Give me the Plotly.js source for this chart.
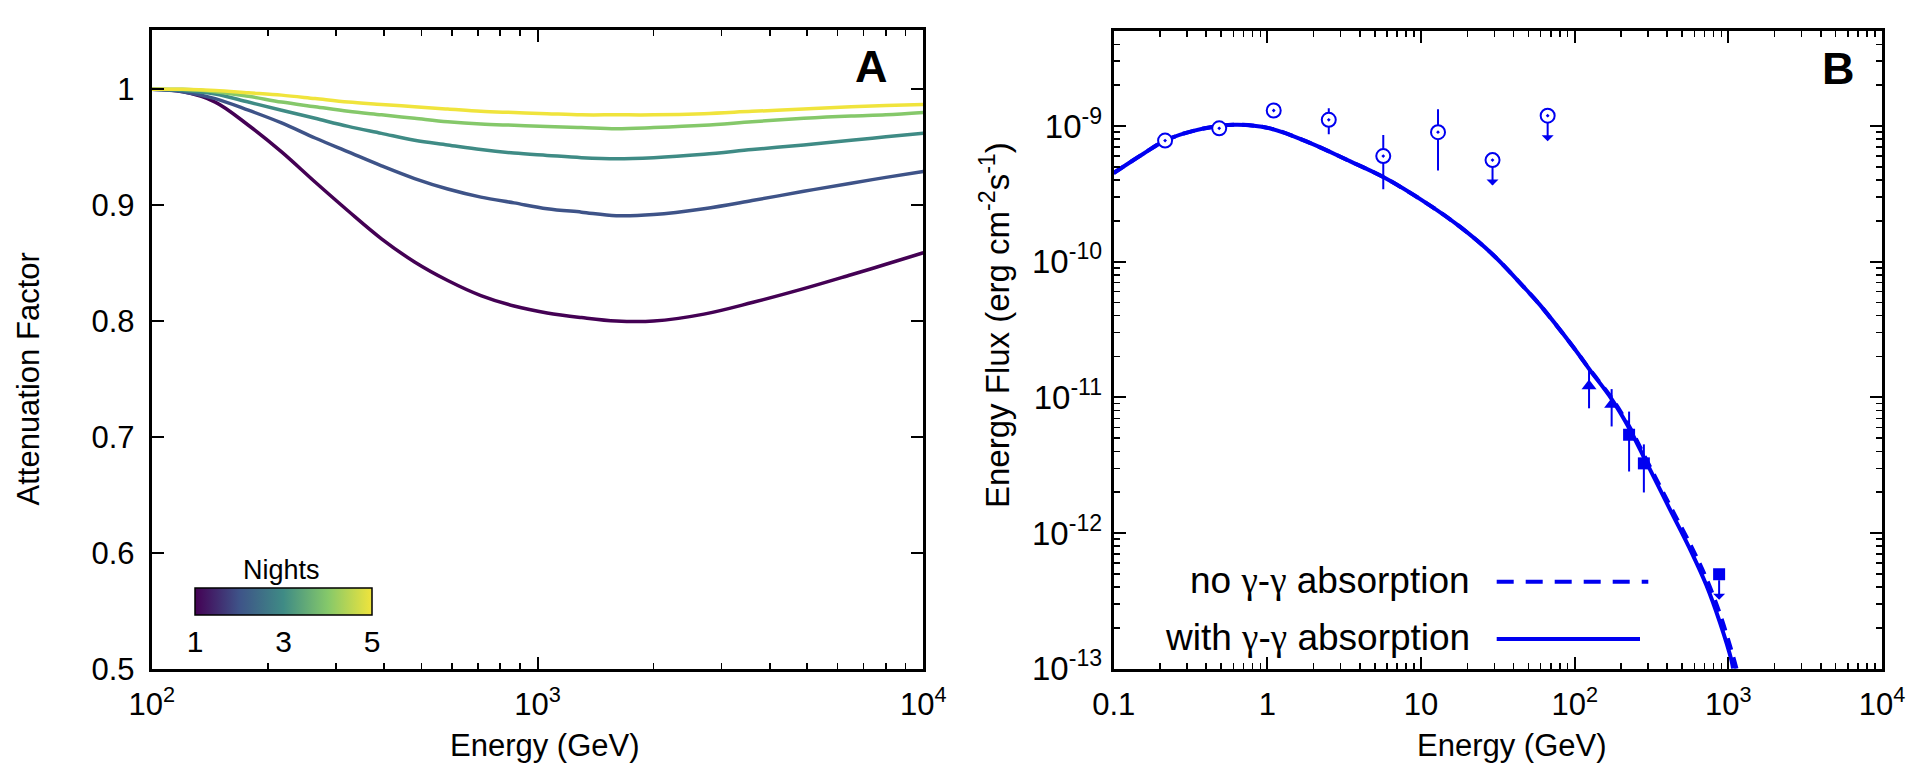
<!DOCTYPE html>
<html>
<head>
<meta charset="utf-8">
<script src="https://cdn.plot.ly/plotly-3.0.1.min.js"></script>
<style>html,body{margin:0;padding:0;background:#fff;}#chart{width:1916px;height:770px;}</style>
</head>
<body>
<div id="chart"></div>
<script>
// ---------- Panel A: attenuation factor ----------
const attnEnergy = [100,120,146,178,217,265,323,394,480,585,713,869,1059,1300,1600,2000,2700,3600,4900,6500,8000,10000];
const night1 = [1.000,0.998,0.989,0.969,0.946,0.920,0.895,0.871,0.851,0.835,0.822,0.813,0.807,0.803,0.800,0.800,0.806,0.816,0.828,0.840,0.849,0.859];
const night2 = [1.000,0.998,0.992,0.982,0.971,0.958,0.946,0.934,0.923,0.914,0.907,0.902,0.897,0.894,0.891,0.892,0.897,0.904,0.912,0.919,0.924,0.929];
const night3 = [1.000,0.999,0.996,0.989,0.982,0.975,0.968,0.962,0.956,0.952,0.948,0.945,0.943,0.941,0.940,0.941,0.944,0.948,0.952,0.956,0.959,0.962];
const night4 = [1.000,1.000,0.998,0.994,0.989,0.985,0.981,0.978,0.975,0.972,0.970,0.969,0.968,0.967,0.966,0.967,0.969,0.972,0.975,0.977,0.978,0.980];
const night5 = [1.000,1.000,0.999,0.997,0.995,0.992,0.989,0.987,0.985,0.983,0.981,0.980,0.979,0.978,0.978,0.978,0.979,0.981,0.983,0.985,0.986,0.987];
const nights = [1,2,3,4,5];
const nightCurves = [night1,night2,night3,night4,night5];
const nightColors = ['#440154','#3e5388','#3f8b85','#85c86a','#f0e43c'];
const attnYTicks = [0.5,0.6,0.7,0.8,0.9,1];
const attnYLabels = ['0.5','0.6','0.7','0.8','0.9','1'];
const attnXTicks = [100,1000,10000];
const attnXLabels = ['10<sup>2</sup>','10<sup>3</sup>','10<sup>4</sup>'];
const colorbarTicks = [1,3,5];
const colorbarLabels = ['1','3','5'];

// ---------- Panel B: SED ----------
const modelE = [0.1,0.156,0.216,0.33,0.6,1.04,1.89,3.44,5.68,10.9,17.9,29.5,48.6,59.4,97.8,125.6,174,228.6,293.6,416,576,721,880,1050,1074];
const modelAbsF = [4.5e-10,6.24e-10,7.8e-10,9.2e-10,1.02e-9,9.6e-10,7.5e-10,5.5e-10,4.2e-10,2.69e-10,1.81e-10,1.12e-10,6.18e-11,4.8e-11,2.35e-11,1.59e-11,9.7e-12,5.8e-12,3.3e-12,1.5e-12,7.2e-13,4.1e-13,2.2e-13,1.14e-13,1.0e-13];
const modelNoAbsE = [0.1,0.156,0.216,0.33,0.6,1.04,1.89,3.44,5.68,10.9,17.9,29.5,48.6,59.4,97.8,125.6,174,228.6,293.6,416,576,721,880,1050,1130];
const modelNoAbsF = [4.5e-10,6.24e-10,7.8e-10,9.2e-10,1.02e-9,9.6e-10,7.5e-10,5.5e-10,4.2e-10,2.69e-10,1.81e-10,1.12e-10,6.18e-11,4.8e-11,2.35e-11,1.6e-11,9.9e-12,6.0e-12,3.45e-12,1.6e-12,7.9e-13,4.6e-13,2.55e-13,1.35e-13,1.0e-13];

const fermiE  = [0.216,0.486,1.10,2.51,5.68,12.9,29.2,66.7];
const fermiF  = [7.8e-10,9.6e-10,1.30e-9,1.11e-9,6.0e-10,9.0e-10,5.6e-10,1.19e-9];
const fermiHi = [7.8e-10,9.6e-10,1.30e-9,1.35e-9,8.59e-10,1.33e-9,5.6e-10,1.19e-9];
const fermiLo = [7.8e-10,9.6e-10,1.30e-9,8.69e-10,3.42e-10,4.69e-10,5.6e-10,1.19e-9];
const fermiUL = [false,false,false,false,false,false,true,true];

const triE  = [124,174];
const triF  = [1.21e-11,8.85e-12];
const triHi = [1.59e-11,1.15e-11];
const triLo = [8.3e-12,6.1e-12];

const sqE  = [226,282];
const sqF  = [5.3e-12,3.26e-12];
const sqHi = [7.85e-12,4.5e-12];
const sqLo = [2.84e-12,1.99e-12];

const sqUlE = [871];
const sqUlF = [4.97e-13];

const sedXTicks = [0.1,1,10,100,1000,10000];
const sedXLabels = ['0.1','1','10','10<sup>2</sup>','10<sup>3</sup>','10<sup>4</sup>'];
const sedYTicks = [1e-13,1e-12,1e-11,1e-10,1e-9];
const sedYLabels = ['10<sup>-13</sup>','10<sup>-12</sup>','10<sup>-11</sup>','10<sup>-10</sup>','10<sup>-9</sup>'];

const G = '<span style="font-family:\'Liberation Serif\',serif">γ</span>';
const legendLabels = ['no ' + G + '-' + G + ' absorption', 'with ' + G + '-' + G + ' absorption'];

// ---------- build ----------
const W = 1916, H = 770;
const px = v => v / W;
const py = v => 1 - v / H;
const FONT = 'Liberation Sans, Arial, Helvetica, sans-serif';
const BLUE = '#0000f0';

function logMinor(lo, hi) {
  const v = [];
  for (let p = lo; p < hi; p++) for (let m = 2; m <= 9; m++) v.push(m * Math.pow(10, p));
  return v;
}

const traces = [];
nightCurves.forEach((c, i) => {
  traces.push({x: attnEnergy, y: c, xaxis: 'x', yaxis: 'y', mode: 'lines',
    line: {color: nightColors[i], width: 3.5, shape: 'spline', smoothing: 1},
    hoverinfo: 'skip', showlegend: false});
});
// colorbar carrier
traces.push({x: [null], y: [null], xaxis: 'x', yaxis: 'y', mode: 'markers', hoverinfo: 'skip', showlegend: false,
  marker: {color: [nights[0]], cmin: nights[0], cmax: nights[nights.length-1],
    colorscale: nightColors.map((c, i) => [i/(nightColors.length-1), c]), showscale: true,
    colorbar: {orientation: 'h', x: px(195), xanchor: 'left', y: py(588.3), yanchor: 'top',
      len: 177.3, lenmode: 'pixels', thickness: 27.4, thicknessmode: 'pixels', xpad: 0, ypad: 0,
      outlinewidth: 1.5, outlinecolor: '#000', tickvals: colorbarTicks, ticktext: colorbarLabels, ticks: '',
      tickfont: {family: FONT, size: 30, color: '#000'}}}});

// model lines
traces.push({x: modelNoAbsE, y: modelNoAbsF, xaxis: 'x2', yaxis: 'y2', mode: 'lines',
  line: {color: BLUE, width: 4, dash: '12px,8px', shape: 'spline'}, hoverinfo: 'skip', showlegend: false});
traces.push({x: modelE, y: modelAbsF, xaxis: 'x2', yaxis: 'y2', mode: 'lines',
  line: {color: BLUE, width: 4, shape: 'spline'}, hoverinfo: 'skip', showlegend: false});

const errs = (f, hi, lo) => ({type: 'data', symmetric: false,
  array: hi.map((h, i) => h - f[i]), arrayminus: lo.map((l, i) => f[i] - l),
  color: BLUE, thickness: 2, width: 0});

traces.push({x: fermiE, y: fermiF, xaxis: 'x2', yaxis: 'y2', mode: 'markers', hoverinfo: 'skip', showlegend: false,
  marker: {symbol: 'circle-dot', size: 14, color: '#fff', line: {color: BLUE, width: 2}},
  error_y: errs(fermiF, fermiHi, fermiLo)});
traces.push({x: triE, y: triF, xaxis: 'x2', yaxis: 'y2', mode: 'markers', hoverinfo: 'skip', showlegend: false,
  marker: {symbol: 'triangle-up', size: 13, color: BLUE}, error_y: errs(triF, triHi, triLo)});
traces.push({x: sqE, y: sqF, xaxis: 'x2', yaxis: 'y2', mode: 'markers', hoverinfo: 'skip', showlegend: false,
  marker: {symbol: 'square', size: 12, color: BLUE}, error_y: errs(sqF, sqHi, sqLo)});
traces.push({x: sqUlE, y: sqUlF, xaxis: 'x2', yaxis: 'y2', mode: 'markers', hoverinfo: 'skip', showlegend: false,
  marker: {symbol: 'square', size: 12, color: BLUE}});

// upper-limit arrows
const ulArrows = [];
fermiE.forEach((e, i) => { if (fermiUL[i]) ulArrows.push([e, fermiF[i], 7]); });
sqUlE.forEach((e, i) => ulArrows.push([e, sqUlF[i], 6]));
const annotations = ulArrows.map(([e, f, so]) => ({
  xref: 'x2', yref: 'y2', x: Math.log10(e), y: Math.log10(f), text: '', showarrow: true,
  ax: 0, ay: 27, axref: 'pixel', ayref: 'pixel', arrowside: 'start', arrowhead: 2, arrowsize: 1.3,
  arrowwidth: 2, arrowcolor: BLUE, standoff: so, startstandoff: 0}));

const txt = (text, x, y, size, extra) => Object.assign({xref: 'paper', yref: 'paper', x: px(x), y: py(y),
  text, showarrow: false, xanchor: 'center', yanchor: 'middle', font: {family: FONT, size, color: '#000'}}, extra || {});

annotations.push(txt('<b>A</b>', 871.7, 66.7, 45));
annotations.push(txt('<b>B</b>', 1838, 68, 45));
annotations.push(txt('Nights', 281.7, 570, 27));
annotations.push(txt('Attenuation Factor', 27.5, 379, 31, {textangle: -90}));
annotations.push(txt('Energy Flux (erg cm<sup>-2</sup>s<sup>-1</sup>)', 995, 325, 33, {textangle: -90}));
annotations.push(txt('Energy (GeV)', 545, 745, 31));
annotations.push(txt('Energy (GeV)', 1511.6, 745, 31));
annotations.push(txt(legendLabels[0], 1471.7, 580, 37, {xanchor: 'right'}));
annotations.push(txt(legendLabels[1], 1471.7, 637, 37, {xanchor: 'right'}));

const shapes = [
  {type: 'line', xref: 'paper', yref: 'paper', x0: px(1496.7), x1: px(1648.3), y0: py(581.7), y1: py(581.7),
   line: {color: BLUE, width: 4, dash: '17px,12px'}},
  {type: 'line', xref: 'paper', yref: 'paper', x0: px(1496.7), x1: px(1640), y0: py(639), y1: py(639),
   line: {color: BLUE, width: 4}}
];

const axBase = {showline: true, linewidth: 3, linecolor: '#000', mirror: 'allticks', ticks: 'inside',
  ticklen: 12, tickwidth: 2, tickcolor: '#000', showgrid: false, zeroline: false, automargin: false,
  tickfont: {family: FONT, size: 31, color: '#000'}, tickmode: 'array'};

const layout = {
  width: W, height: H, margin: {l: 0, r: 0, t: 0, b: 0}, paper_bgcolor: '#fff', plot_bgcolor: '#fff',
  showlegend: false, font: {family: FONT, color: '#000'},
  xaxis: Object.assign({}, axBase, {type: 'log', domain: [px(151.8), px(923.3)], range: [2, 4], anchor: 'y',
    tickvals: attnXTicks, ticktext: attnXLabels, ticklabelstandoff: 6,
    minor: {tickmode: 'array', tickvals: logMinor(2, 4), ticks: 'inside', ticklen: 6, tickwidth: 1.5, tickcolor: '#000', showgrid: false}}),
  yaxis: Object.assign({}, axBase, {domain: [1 - 668.7/H, 1 - 30/H], range: [0.5, 1.0512], anchor: 'x',
    tickvals: attnYTicks, ticktext: attnYLabels, ticklabelstandoff: 8}),
  xaxis2: Object.assign({}, axBase, {type: 'log', domain: [px(1113.7), px(1882)], range: [-1, 4], anchor: 'y2',
    tickvals: sedXTicks, ticktext: sedXLabels, ticklabelstandoff: 6,
    minor: {tickmode: 'array', tickvals: logMinor(-1, 4), ticks: 'inside', ticklen: 6, tickwidth: 1.5, tickcolor: '#000', showgrid: false}}),
  yaxis2: Object.assign({}, axBase, {type: 'log', domain: [1 - 668.7/H, 1 - 30.7/H], range: [-13, -8.298], anchor: 'x2',
    tickvals: sedYTicks, ticktext: sedYLabels, ticklabelstandoff: 2, tickfont: {family: FONT, size: 33, color: '#000'},
    minor: {tickmode: 'array', tickvals: logMinor(-13, -8), ticks: 'inside', ticklen: 6, tickwidth: 1.5, tickcolor: '#000', showgrid: false}}),
  annotations, shapes
};

Plotly.newPlot('chart', traces, layout, {staticPlot: true, displayModeBar: false});
</script>
</body>
</html>
